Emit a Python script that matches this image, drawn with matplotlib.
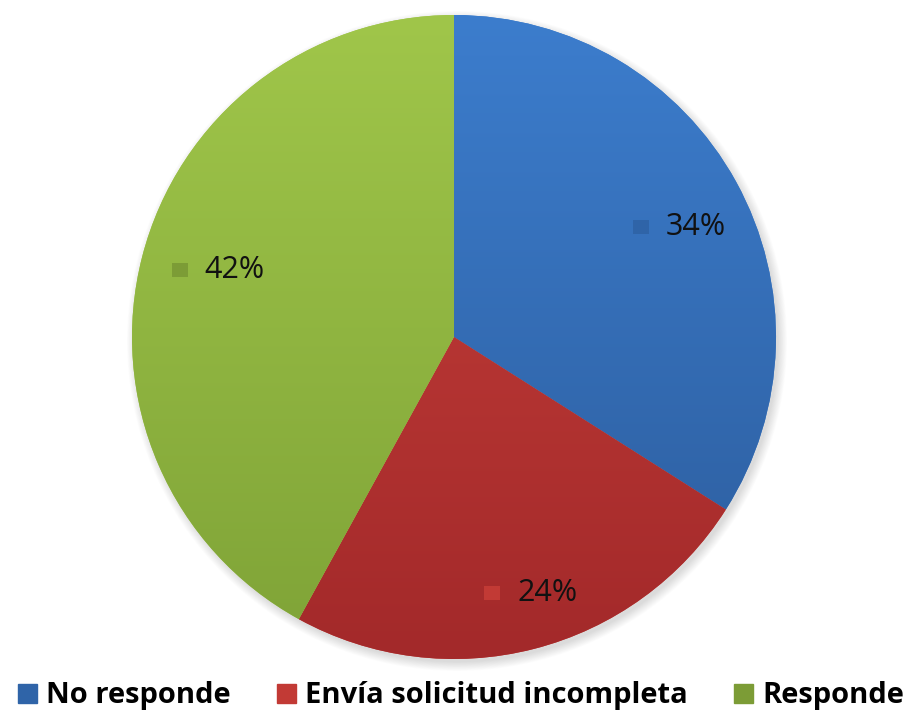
import numpy as np
import matplotlib
matplotlib.use("Agg")
import matplotlib.pyplot as plt
from matplotlib.patches import Rectangle, Circle
from matplotlib.colors import LinearSegmentedColormap

categories = ["No responde", "Envía solicitud incompleta", "Responde"]
shares = [34, 24, 42]
pct_labels = ["34%", "24%", "42%"]

top_colors = ["#3c7dcd", "#c8413b", "#a0c64a"]
bottom_colors = ["#2c5c9c", "#a3292a", "#7fa337"]
key_colors = ["#2f64a8", "#c23a35", "#7c9c36"]

FONT = ["Open Sans", "DejaVu Sans"]

W, H = 912, 713
fig = plt.figure(figsize=(W / 100, H / 100), dpi=100)
ax = fig.add_axes([0, 0, 1, 1])
ax.axis("off")

cx, cy, R = 454, H - 337, 322

# soft drop shadow behind the pie
for i in range(12):
    ax.add_patch(Circle((cx + 3, cy - 4), R + 8 - i * 0.8, color="#000000",
                        alpha=0.010, lw=0, zorder=0))

wedges, _ = ax.pie(shares, startangle=90, counterclock=False,
                   center=(cx, cy), radius=R, colors=top_colors,
                   wedgeprops=dict(lw=0))

# vertical gradient fill clipped to each wedge
grad = np.linspace(1, 0, 256).reshape(-1, 1)
for w, c0, c1 in zip(wedges, top_colors, bottom_colors):
    cmap = LinearSegmentedColormap.from_list("g", [c1, c0])
    im = ax.imshow(grad, cmap=cmap, extent=(cx - R, cx + R, cy - R, cy + R),
                   origin="upper", aspect="auto", zorder=2, interpolation="bicubic")
    im.set_clip_path(w)

ax.set_xlim(0, W)
ax.set_ylim(0, H)
ax.set_aspect("equal")

# percentage labels with small colour keys (radial distance, angular nudge)
label_pos = [(0.78, -2.8), (0.83, 2.4), (0.76, -1.4)]
for w, lab, kc, (d, dth) in zip(wedges, pct_labels, key_colors, label_pos):
    mid = np.deg2rad((w.theta1 + w.theta2) / 2 + dth)
    x = cx + d * R * np.cos(mid)
    y = cy + d * R * np.sin(mid)
    ax.add_patch(Rectangle((x - 47, y - 7), 16, 14, color=kc, lw=0, zorder=4))
    ax.text(x - 14, y, lab, fontsize=22, color="#111111", family=FONT,
            ha="left", va="center", zorder=5)

handles = [Rectangle((0, 0), 1, 1, color=c) for c in key_colors]
fig.legend(handles, categories, loc="center", ncol=3, frameon=False,
           bbox_to_anchor=(0.5 + 5 / W, 1 - 696 / H),
           prop=dict(size=21, weight="bold", family=FONT),
           handlelength=0.65, handleheight=0.65, handletextpad=0.3,
           columnspacing=1.6, borderaxespad=0, borderpad=0)

fig.savefig("out.png", dpi=100)
